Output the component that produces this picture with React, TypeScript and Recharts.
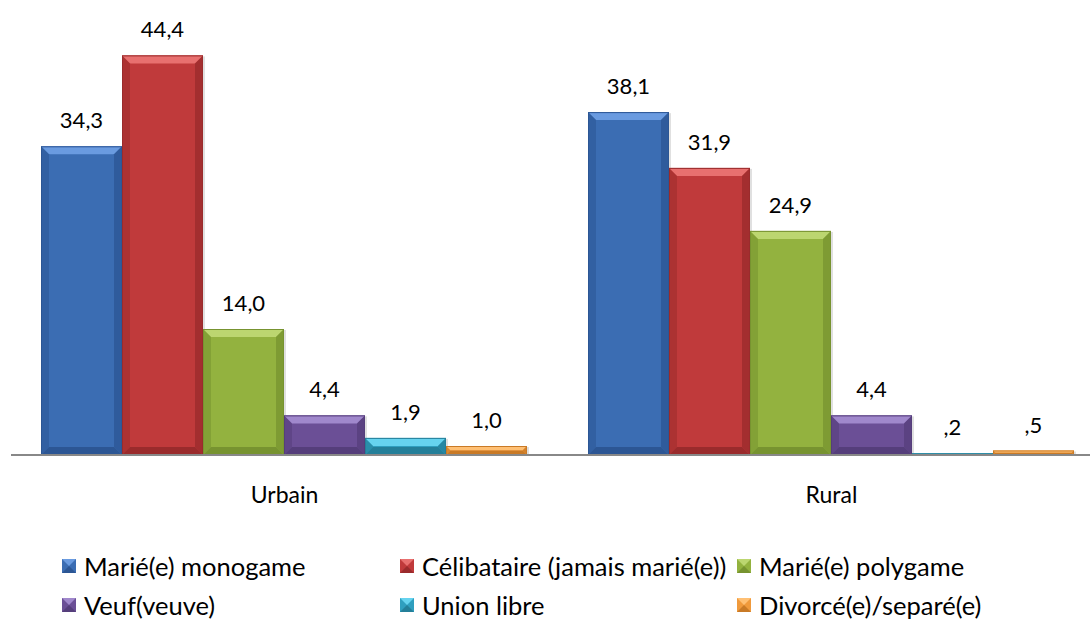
import React from 'react';
import { BarChart, Bar, XAxis, YAxis, LabelList } from 'recharts';

const categories = ['Urbain', 'Rural'];
const seriesNames = [
  'Marié(e) monogame',
  'Célibataire (jamais marié(e))',
  'Marié(e) polygame',
  'Veuf(veuve)',
  'Union libre',
  'Divorcé(e)/separé(e)',
];
const urbainValues = [34.3, 44.4, 14.0, 4.4, 1.9, 1.0];
const ruralValues = [38.1, 31.9, 24.9, 4.4, 0.2, 0.5];

// main, light (top bevel), dark (sides / bottom)
const palette = [
  { main: '#3b6db3', light: '#6a9be0', dark: '#2c5694' },
  { main: '#c03a3b', light: '#e8706f', dark: '#9a2b2c' },
  { main: '#93b23f', light: '#bcd670', dark: '#779330' },
  { main: '#6b4f96', light: '#a088cc', dark: '#553e7b' },
  { main: '#2f9fbf', light: '#66d3ef', dark: '#247f99' },
  { main: '#f09a3c', light: '#ffc074', dark: '#c97a26' },
];

const keys = seriesNames.map((_, i) => `s${i}`);

const data = categories.map((name, ci) => {
  const vals = ci === 0 ? urbainValues : ruralValues;
  const row: any = { name };
  keys.forEach((k, i) => (row[k] = vals[i]));
  return row;
});

const fmt = (v: any) => {
  const s = Number(v).toFixed(1).replace('.', ',');
  return s.startsWith('0,') ? s.slice(1) : s;
};

const BevelBar = (props: any) => {
  const { x, y, width: w, height: h, idx } = props;
  if (!w || !h || h <= 0) return null;
  const c = palette[idx];
  const b = Math.min(8, h / 2, w / 2);
  return (
    <g>
      <rect x={x + 2} y={y + 1} width={w} height={h - 1} fill="rgba(0,0,0,0.12)" />
      <rect x={x} y={y} width={w} height={h} fill={c.main} />
      <polygon points={`${x},${y} ${x + w},${y} ${x + w - b},${y + b} ${x + b},${y + b}`} fill={c.light} />
      <polygon points={`${x},${y} ${x + b},${y + b} ${x + b},${y + h - b} ${x},${y + h}`} fill={c.dark} opacity={0.55} />
      <polygon points={`${x + w},${y} ${x + w - b},${y + b} ${x + w - b},${y + h - b} ${x + w},${y + h}`} fill={c.dark} opacity={0.75} />
      <polygon points={`${x},${y + h} ${x + b},${y + h - b} ${x + w - b},${y + h - b} ${x + w},${y + h}`} fill={c.dark} />
      <rect x={x + 0.5} y={y + 0.5} width={w - 1} height={Math.max(h - 1, 0.5)} fill="none" stroke={c.dark} strokeWidth={1} />
    </g>
  );
};

const LegendIcon = ({ idx }: { idx: number }) => {
  const c = palette[idx];
  const s = 14;
  return (
    <svg width={s} height={s} style={{ display: 'block' }}>
      <rect x={0} y={0} width={s} height={s} fill={c.main} />
      <polygon points={`0,0 ${s},0 ${s / 2},${s / 2}`} fill={c.light} />
      <polygon points={`0,${s} ${s},${s} ${s / 2},${s / 2}`} fill={c.dark} />
    </svg>
  );
};

const legendCols = [62, 400, 737];
const legendRows = [566, 605];

export default function App() {
  return (
    <div style={{ position: 'absolute', left: 0, top: 0, width: 1090, height: 624, overflow: 'hidden', background: '#fff' }}>
      <BarChart
        width={1106}
        height={624}
        data={data}
        margin={{ top: 5, right: 1, bottom: 0, left: 11 }}
        barCategoryGap={30}
        barGap={0}
      >
        <XAxis
          dataKey="name"
          height={169}
          axisLine={{ stroke: '#888', strokeWidth: 2 }}
          tickLine={false}
          tick={{ fill: '#000', fontSize: 23, fontFamily: 'Lato', dy: 24 }}
        />
        <YAxis hide domain={[0, 50]} />
        {keys.map((k, i) => (
          <Bar key={k} dataKey={k} isAnimationActive={false} shape={(p: any) => <BevelBar {...p} idx={i} />}>
            <LabelList
              dataKey={k}
              position="top"
              offset={18}
              formatter={fmt}
              style={{ fill: '#000', fontSize: 22, fontFamily: 'Lato' }}
            />
          </Bar>
        ))}
      </BarChart>
      {seriesNames.map((name, i) => {
        const col = i % 3;
        const row = Math.floor(i / 3);
        return (
          <div
            key={name}
            style={{
              position: 'absolute',
              left: legendCols[col],
              top: legendRows[row] - 15,
              height: 30,
              display: 'flex',
              alignItems: 'center',
              fontFamily: 'Lato',
              fontSize: 25.5,
              color: '#000',
              whiteSpace: 'nowrap',
            }}
          >
            <LegendIcon idx={i} />
            <span style={{ marginLeft: 8 }}>{name}</span>
          </div>
        );
      })}
    </div>
  );
}
